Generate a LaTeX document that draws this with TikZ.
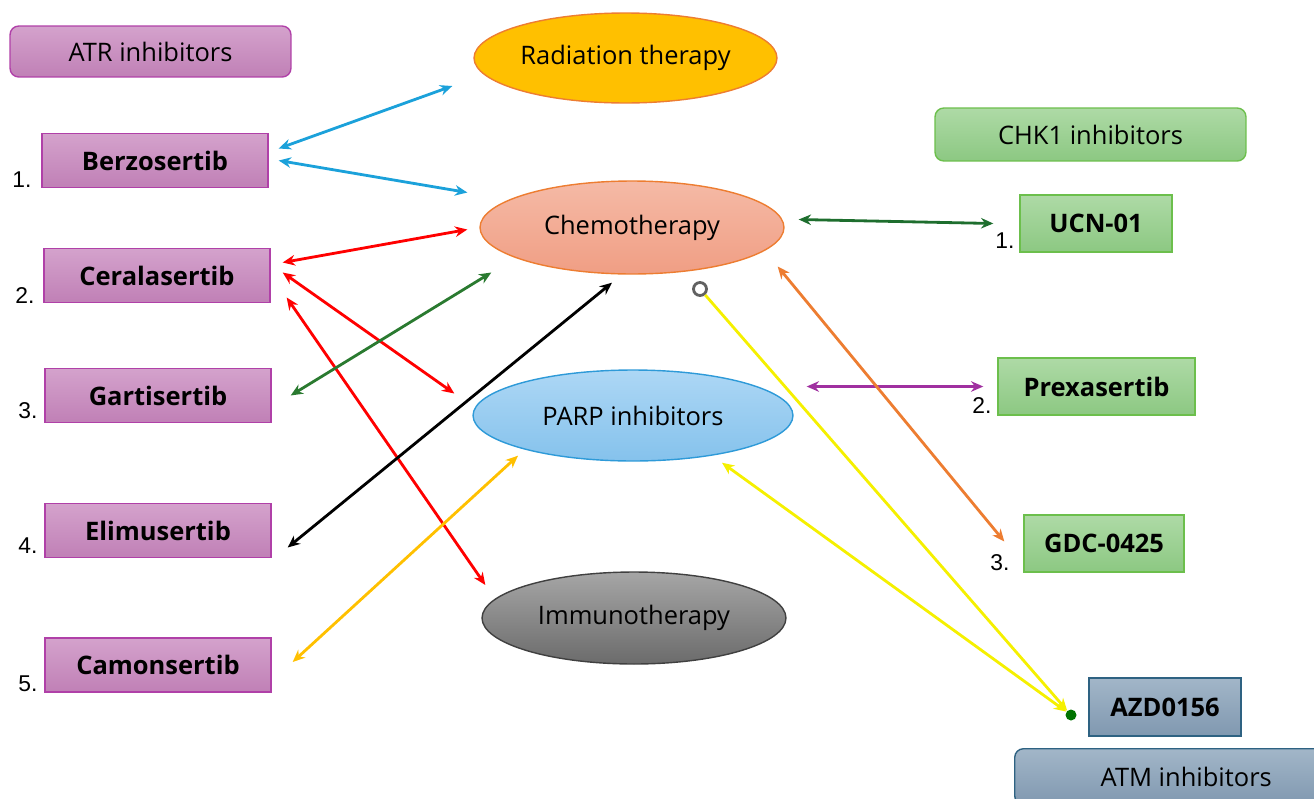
\documentclass[tikz,border=0pt]{standalone}
\usepackage{fontspec}
\setmainfont{Open Sans}
\newfontfamily\numfont{Liberation Sans}
\usetikzlibrary{calc,arrows.meta,shapes.geometric}

\definecolor{atrtop}{HTML}{D4A2CC}
\definecolor{atrbot}{HTML}{C080B6}
\definecolor{atrline}{HTML}{B040A8}
\definecolor{chktop}{HTML}{AEDAA6}
\definecolor{chkbot}{HTML}{8CC882}
\definecolor{chkline}{HTML}{6CBF4C}
\definecolor{atmtop}{HTML}{A2B6C8}
\definecolor{atmbot}{HTML}{8098B0}
\definecolor{atmline}{HTML}{2E6282}
\definecolor{radfill}{HTML}{FFC000}
\definecolor{orng}{HTML}{ED7D31}
\definecolor{chemtop}{HTML}{F5BAA6}
\definecolor{chembot}{HTML}{F09E84}
\definecolor{parptop}{HTML}{ADD7F5}
\definecolor{parpbot}{HTML}{85C2EC}
\definecolor{parpline}{HTML}{2E9AD8}
\definecolor{arblue}{HTML}{1BA1DA}
\definecolor{argreen}{HTML}{2A7A30}
\definecolor{ardkgreen}{HTML}{1E6E2E}
\definecolor{arpurple}{HTML}{A030A0}
\definecolor{argold}{HTML}{FFC000}
\definecolor{arylw}{HTML}{F5F000}

\begin{document}
\begin{tikzpicture}[x=0.02cm, y=-0.02cm,
  font=\fontsize{14.5}{17}\selectfont,
  atrdrug/.style={rectangle, draw=atrline, line width=0.8pt, top color=atrtop, bottom color=atrbot,
    minimum width=4.52cm, minimum height=1.08cm, font=\fontsize{14.5}{17}\selectfont\bfseries},
  chkdrug/.style={rectangle, draw=chkline, line width=0.8pt, top color=chktop, bottom color=chkbot,
    minimum height=1.14cm, font=\fontsize{14.5}{17}\selectfont\bfseries},
  therapy/.style={ellipse, line width=0.8pt, inner sep=0pt, minimum width=6.08cm, minimum height=1.84cm},
  num/.style={font=\numfont\fontsize{13}{15}\selectfont},
  arr/.style={line width=1.6pt, {Stealth[length=7pt,width=6pt]}-{Stealth[length=7pt,width=6pt]}}
]
\useasboundingbox (0,0) rectangle (1314,798);

% group headers
\node[rectangle, rounded corners=5pt, draw=atrline, line width=0.8pt, top color=atrtop, bottom color=atrbot,
  minimum width=5.62cm, minimum height=1.02cm] (atr) at (150.5,51.5) {ATR inhibitors};
\node[rectangle, rounded corners=5pt, draw=chkline, line width=0.8pt, top color=chktop, bottom color=chkbot,
  minimum width=6.22cm, minimum height=1.06cm] (chk) at (1090.5,134.5) {CHK1 inhibitors};
\node[rectangle, rounded corners=5pt, draw=atmline, line width=0.8pt, top color=atmtop, bottom color=atmbot,
  minimum width=6.2cm, minimum height=1.12cm, anchor=north west] (atm) at (1014,748) {\hspace{1.3em}ATM inhibitors};

% ATR drugs
\foreach \nm/\txt/\xx/\yy/\i/\nx/\ny in {berz/Berzosertib/155/160.5/1/22/180,
    cera/Ceralasertib/157/275.5/2/25/296, gart/Gartisertib/158/395.5/3/28/411,
    elim/Elimusertib/158/530.5/4/28/546, camo/Camonsertib/158/665/5/28/684}{
  \node[atrdrug] (\nm) at (\xx,\yy) {\txt};
  \node[num] (n\nm) at (\nx,\ny) {\i.};
}

% CHK1 / ATM drugs
\node[chkdrug, minimum width=3.04cm] (ucn) at (1096,223.5) {UCN-01};
\node[num] (nucn) at (1005,241) {1.};
\node[chkdrug, minimum width=3.94cm] (prex) at (1096.5,386.5) {Prexasertib};
\node[num] (nprex) at (982,406) {2.};
\node[chkdrug, minimum width=3.2cm] (gdc) at (1104,543.5) {GDC-0425};
\node[num] (ngdc) at (1000,563) {3.};
\node[rectangle, draw=atmline, line width=0.8pt, top color=atmtop, bottom color=atmbot,
  minimum width=3.04cm, minimum height=1.16cm, font=\fontsize{14.5}{17}\selectfont\bfseries] (azd) at (1165,707) {AZD0156};

% therapies
\node[therapy, draw=orng, fill=radfill, minimum width=6.06cm, minimum height=1.8cm] (rad) at (625.5,58) {Radiation therapy};
\node[therapy, draw=orng, top color=chemtop, bottom color=chembot, minimum height=1.86cm] (chemo) at (632,227.5) {Chemotherapy};
\node[therapy, draw=parpline, top color=parptop, bottom color=parpbot, minimum width=6.4cm, minimum height=1.82cm] (parp) at (633,415.5) {PARP inhibitors};
\node[therapy, draw=black!75, top color=black!35, bottom color=black!58] (immu) at (634,618) {Immunotherapy};

% markers
\node[circle, draw=black!62, line width=1.6pt, minimum size=0.26cm, inner sep=0pt] (ring) at (700,289) {};
\node[circle, fill=green!45!black, minimum size=0.22cm, inner sep=0pt] (azddot) at (1071,715) {};

% ATR links
\draw[arr, arblue] ($(berz.east)+(10,-12)$) -- ($(rad.west)+(-21,28)$);
\draw[arr, arblue] ($(berz.east)+(10,0)$) -- ($(chemo.west)+(-12,-35)$);
\draw[arr, red] ($(cera.east)+(12,-13)$) -- ($(chemo.west)+(-12,2)$);
\draw[arr, red] ($(cera.east)+(12,-3)$) -- ($(parp.west)+(-18,-22)$);
\draw[arr, red] ($(cera.east)+(16,22)$) -- ($(immu.west)+(4,-33)$);
\draw[arr, argreen] ($(gart.east)+(19,0)$) -- ($(chemo.west)+(12,45)$);
\draw[arr, black] ($(elim.east)+(16,17)$) -- ($(chemo.south)+(-20,8)$);
\draw[arr, argold] ($(camo.east)+(21,-3)$) -- ($(parp.south)+(-115,-6)$);

% CHK1 links
\draw[arr, ardkgreen] ($(chemo.east)+(14,-8)$) -- ($(ucn.west)+(-26,0)$);
\draw[arr, arpurple] ($(parp.east)+(13,-29)$) -- ($(prex.west)+(-14,0)$);
\draw[arr, orng] ($(chemo.east)+(-7,39)$) -- ($(gdc.west)+(-19,-2)$);

% ATM links
\draw[line width=1.6pt, arylw, -{Stealth[length=7pt,width=6pt]}] (ring) -- (azddot);
\draw[arr, arylw] ($(parp.south)+(89,1)$) -- (azddot);

\end{tikzpicture}
\end{document}
